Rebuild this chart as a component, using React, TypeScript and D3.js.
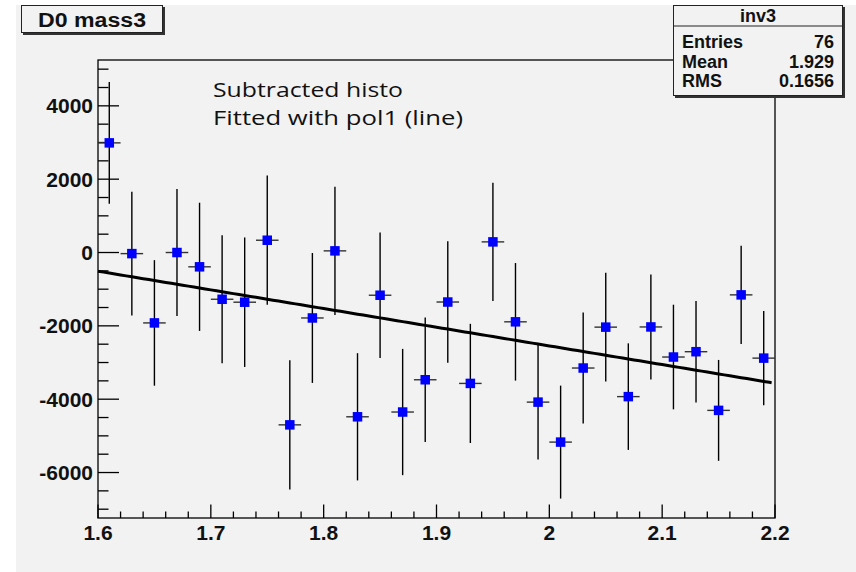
import React, { useEffect, useRef } from 'react';
import * as d3 from 'd3';

// bin centres (bin width 0.02)
const binCenters = [
  1.61, 1.63, 1.65, 1.67, 1.69, 1.71, 1.73, 1.75, 1.77, 1.79,
  1.81, 1.83, 1.85, 1.87, 1.89, 1.91, 1.93, 1.95, 1.97, 1.99,
  2.01, 2.03, 2.05, 2.07, 2.09, 2.11, 2.13, 2.15, 2.17, 2.19,
];
const binValues = [
  2990, -30, -1920, 0, -390, -1275, -1355, 335, -4700, -1785,
  45, -4480, -1165, -4350, -3470, -1350, -3570, 290, -1890, -4080,
  -5170, -3150, -2035, -3930, -2030, -2850, -2705, -4305, -1155, -2880,
];
const binErrors = [
  1660, 1690, 1712, 1730, 1748, 1744, 1766, 1762, 1762, 1771,
  1748, 1735, 1712, 1722, 1695, 1657, 1625, 1612, 1603, 1567,
  1540, 1512, 1485, 1453, 1430, 1427, 1385, 1376, 1339, 1285,
];
const halfBin = 0.01;

// pol1 fit: p0 + p1*x
const fitParams = [7641, -5094];
const fitRange = [1.6, 2.197];

const xTicks = [1.6, 1.7, 1.8, 1.9, 2.0, 2.1, 2.2];
const yTicks = [-6000, -4000, -2000, 0, 2000, 4000];

const statLabels = ['Entries', 'Mean', 'RMS'];
const statValues = ['76', '1.929', '0.1656'];

const noteLines = ['Subtracted histo', 'Fitted with pol1 (line)'];

export default function App() {
  const width = 856;
  const height = 572;
  const frame = { left: 98, right: 775, top: 60, bottom: 518 };
  const ref = useRef(null);

  useEffect(() => {
    if (!ref.current) return;
    const svg = d3.select(ref.current);
    svg.selectAll('*').remove();

    const x = d3.scaleLinear().domain([1.6, 2.2]).range([frame.left, frame.right]);
    const y = d3.scaleLinear().domain([-7240, 5250]).range([frame.bottom, frame.top]);

    // canvas
    svg.append('rect').attr('width', width).attr('height', height).attr('fill', '#ffffff');
    svg.append('rect').attr('x', 16).attr('y', 5).attr('width', width - 16).attr('height', height - 5).attr('fill', '#f2f2f2');

    // frame
    svg.append('rect')
      .attr('x', frame.left).attr('y', frame.top)
      .attr('width', frame.right - frame.left).attr('height', frame.bottom - frame.top)
      .attr('fill', 'none').attr('stroke', '#000').attr('stroke-width', 1.3);

    const tickFont = '"Liberation Sans", Arial, sans-serif';

    // x axis ticks (primary 0.1, secondary 0.02)
    const xMinor = d3.range(0, 31).map(i => 1.6 + i * 0.02);
    svg.append('g').selectAll('line').data(xMinor).enter().append('line')
      .attr('x1', d => x(d)).attr('x2', d => x(d))
      .attr('y1', frame.bottom).attr('y2', (d, i) => frame.bottom - (i % 5 === 0 ? 13.5 : 6.5))
      .attr('stroke', '#000').attr('stroke-width', 1.3);
    svg.append('g').selectAll('text').data(xTicks).enter().append('text')
      .attr('x', d => x(d)).attr('y', frame.bottom + 22)
      .attr('text-anchor', 'middle')
      .attr('font-family', tickFont).attr('font-weight', 'bold').attr('font-size', 21)
      .attr('fill', '#111')
      .text(d => d3.format('~g')(d));

    // y axis ticks (primary 2000, secondary 500)
    const yMinor = d3.range(-7000, 5001, 500);
    svg.append('g').selectAll('line').data(yMinor).enter().append('line')
      .attr('x1', frame.left).attr('x2', d => frame.left + (d % 2000 === 0 ? 21 : 10.5))
      .attr('y1', d => y(d)).attr('y2', d => y(d))
      .attr('stroke', '#000').attr('stroke-width', 1.3);
    svg.append('g').selectAll('text').data(yTicks).enter().append('text')
      .attr('x', frame.left - 5).attr('y', d => y(d))
      .attr('dy', '0.36em')
      .attr('text-anchor', 'end')
      .attr('font-family', tickFont).attr('font-weight', 'bold').attr('font-size', 21)
      .attr('fill', '#111')
      .text(d => d);

    // error bars
    const pts = binCenters.map((c, i) => ({ c, v: binValues[i], e: binErrors[i] }));
    const bars = svg.append('g').attr('stroke', '#000').attr('stroke-width', 1.4);
    bars.selectAll('.ev').data(pts).enter().append('line')
      .attr('x1', d => x(d.c)).attr('x2', d => x(d.c))
      .attr('y1', d => y(d.v + d.e)).attr('y2', d => y(d.v - d.e));
    bars.selectAll('.eh').data(pts).enter().append('line')
      .attr('x1', d => x(d.c - halfBin)).attr('x2', d => x(d.c + halfBin))
      .attr('y1', d => y(d.v)).attr('y2', d => y(d.v))
      .attr('stroke', '#333');

    // fit line
    const fitX = d3.range(fitRange[0], fitRange[1], 0.005).concat([fitRange[1]]);
    svg.append('path')
      .datum(fitX)
      .attr('fill', 'none').attr('stroke', '#000').attr('stroke-width', 3)
      .attr('d', d3.line<number>()
        .x(d => x(d))
        .y(d => y(fitParams[0] + fitParams[1] * d)));

    // markers
    svg.append('g').selectAll('rect').data(pts).enter().append('rect')
      .attr('x', d => x(d.c) - 4.75).attr('y', d => y(d.v) - 4.75)
      .attr('width', 9.5).attr('height', 9.5)
      .attr('fill', '#0000ff');

    // comment text
    const note = svg.append('g')
      .attr('font-family', '"Open Sans", Lato, sans-serif')
      .attr('font-size', 20.5).attr('fill', '#111');
    note.append('text').attr('x', 213).attr('y', 96.5)
      .attr('textLength', 190).attr('lengthAdjust', 'spacingAndGlyphs')
      .text(noteLines[0]);
    note.append('text').attr('x', 213).attr('y', 124.5)
      .attr('textLength', 250).attr('lengthAdjust', 'spacingAndGlyphs')
      .text(noteLines[1]);

    // title box
    const tb = svg.append('g');
    tb.append('rect').attr('x', 23).attr('y', 7).attr('width', 142).attr('height', 28).attr('fill', '#333');
    tb.append('rect').attr('x', 21.5).attr('y', 5.5).attr('width', 141).attr('height', 27)
      .attr('fill', '#f2f2f2').attr('stroke', '#222').attr('stroke-width', 1);
    tb.append('text').attr('x', 92).attr('y', 26.5)
      .attr('text-anchor', 'middle')
      .attr('font-family', tickFont).attr('font-weight', 'bold').attr('font-size', 20)
      .attr('textLength', 108).attr('lengthAdjust', 'spacingAndGlyphs')
      .attr('fill', '#111')
      .text('D0 mass3');

    // stats box
    const sb = svg.append('g');
    sb.append('rect').attr('x', 675).attr('y', 7).attr('width', 170).attr('height', 91).attr('fill', '#333');
    sb.append('rect').attr('x', 673.5).attr('y', 5.5).attr('width', 169).attr('height', 90)
      .attr('fill', '#f2f2f2').attr('stroke', '#222').attr('stroke-width', 1);
    sb.append('line').attr('x1', 673.5).attr('x2', 842.5).attr('y1', 26).attr('y2', 26)
      .attr('stroke', '#222').attr('stroke-width', 1);
    const statFont = { family: tickFont, size: 18 };
    sb.append('text').attr('x', 758).attr('y', 22)
      .attr('text-anchor', 'middle')
      .attr('font-family', statFont.family).attr('font-weight', 'bold').attr('font-size', statFont.size)
      .attr('fill', '#111').text('inv3');
    statLabels.forEach((lab, i) => {
      sb.append('text').attr('x', 682).attr('y', 48 + i * 19.5)
        .attr('font-family', statFont.family).attr('font-weight', 'bold').attr('font-size', statFont.size)
        .attr('fill', '#111').text(lab);
      sb.append('text').attr('x', 834).attr('y', 48 + i * 19.5)
        .attr('text-anchor', 'end')
        .attr('font-family', statFont.family).attr('font-weight', 'bold').attr('font-size', statFont.size)
        .attr('fill', '#111').text(statValues[i]);
    });
  // eslint-disable-next-line react-hooks/exhaustive-deps
  }, []);

  return (
    <svg
      ref={ref}
      width={width}
      height={height}
      style={{ position: 'absolute', left: 0, top: 0 }}
    ></svg>
  );
}
